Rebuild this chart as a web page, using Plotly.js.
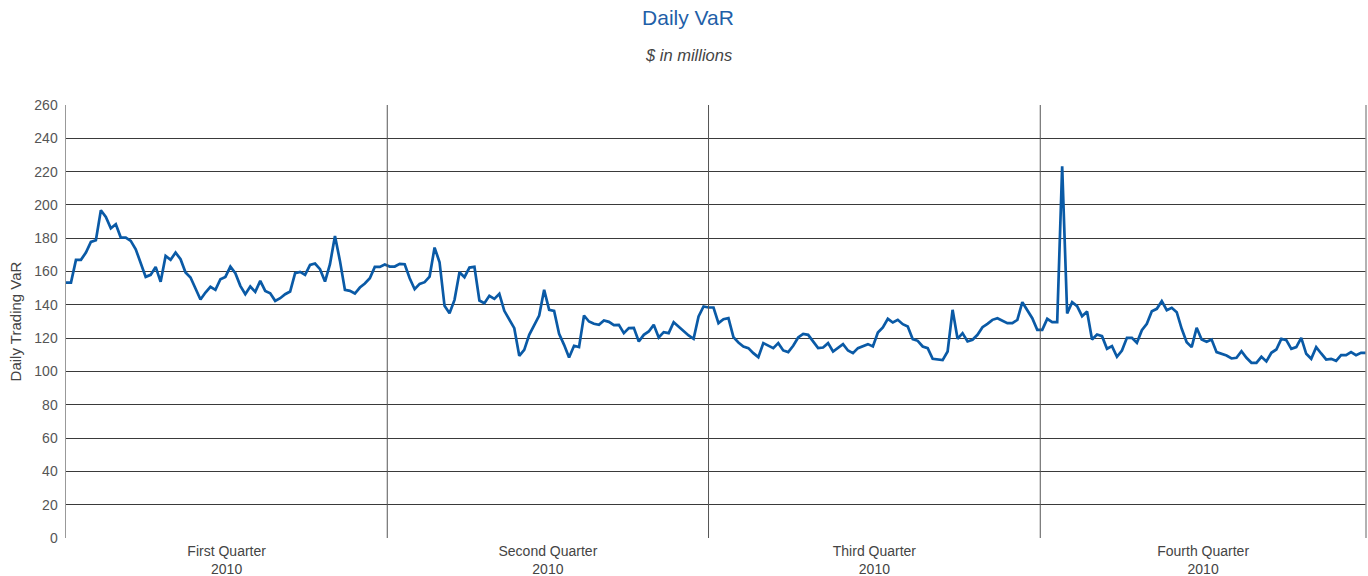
<!DOCTYPE html>
<html>
<head>
<meta charset="utf-8">
<script src="https://cdn.plot.ly/plotly-3.0.1.min.js"></script>
<style>html,body{margin:0;padding:0;background:#fff}#chart{width:1368px;height:576px}</style>
</head>
<body>
<div id="chart"></div>
<script>
// Daily trading VaR, $ in millions, 2010
const q1 = [153.4,153.4,167,167,171.4,177.8,178.8,196.8,192.8,186,188.4,180.4,180.4,178.4,173.4,165.4,156.8,158,162.8,153.8,169.4,167,171.4,167.4,159.4,156.4,149.8,143.2,147.4,150.8,149,155.4,156.8,163,159,151.4,146.4,151,147.8,154.4,148.4,147,142.4,144,146.4,148,159,159.8,158,164,164.8,161.4,154,164.4,181.4,166.4,149,148.4,146.8,150.4,152.8,156,162.8,162.8,164.2];
const q2 = [163,163,164.6,164.4,156,149.4,152.6,153.6,157,174.4,165.6,139.4,135,143,159.6,156.6,162.4,162.8,142.6,141,145.4,143.6,146.6,136.4,131,126,109.4,113,122,127.6,133.6,149,137,136.4,122.6,116,108.4,115.4,114.6,133.6,130,128.6,128,130.6,129.8,127.8,128,123,126,126.2,118,122,124,128,120.4,123.6,123,129.6,127,124,121.6,119.6,133,139,138.4];
const q3 = [138.4,129,131.4,132,120.6,117.4,115,114,111,108.6,117,115.6,114,117,112.6,111.6,115.4,120.4,122.6,122,118,114,114.4,117,112,114,116.4,112.6,111,114,115.4,116.4,115,123.4,126.4,131.6,129.4,131,128.4,127,119.4,118.4,115,114,107.6,107.4,106.8,112,137,119.6,123,118,119,122,126.6,128.6,131,132,130.4,129,129,131,141.6,137,132,125,125];
const q4 = [131.6,129.6,129.6,223.2,134.8,141.6,139.2,133.2,136,119.2,122.2,121.2,113.6,115.2,108.8,112.6,120.2,120.2,117.2,124.8,128.6,136.2,137.6,142.2,136.8,138.2,135.6,125.6,117.6,114.6,126.2,119.2,117.8,119.2,111.6,110.8,109.6,107.8,108.2,112.2,108.2,105.2,105.2,108.8,106,111.2,113.2,119.6,118.8,113.6,114.6,120.2,110.6,107.6,114.6,110.8,107.2,107.6,106.4,109.8,109.8,111.6,109.8,111.2,111.2];

const quarterLabels = ["First Quarter", "Second Quarter", "Third Quarter", "Fourth Quarter"];
const yearLabel = "2010";
const yTicks = [0,20,40,60,80,100,120,140,160,180,200,220,240,260];

const values = q1.concat(q2, q3, q4);
const days = values.map((v, i) => i);
const last = values.length - 1;
// quarter divider positions (in day-index units)
const bounds = [0, q1.length - 0.5, q1.length + q2.length - 1.0, q1.length + q2.length + q3.length - 1.4, last];
const centers = quarterLabels.map((q, i) => (bounds[i] + bounds[i+1]) / 2);

const shapes = [];
for (let i = 1; i < bounds.length - 1; i++) {
  shapes.push({type:'line', xref:'x', yref:'y', x0:bounds[i], x1:bounds[i], y0:-2, y1:260,
    line:{color:'#555', width:1}});
}
shapes.push({type:'line', xref:'paper', yref:'y', x0:1, x1:1, y0:-2, y1:260, line:{color:'#999', width:1.5}});

const trace = {
  x: days, y: values, type: 'scatter', mode: 'lines',
  line: {color:'#0a5aa6', width:2.7},
  hoverinfo: 'y'
};

const layout = {
  width: 1368, height: 576,
  margin: {l:66, r:2, t:105, b:38},
  paper_bgcolor: '#fff', plot_bgcolor: '#fff',
  showlegend: false,
  font: {family: '"Liberation Sans", Arial, sans-serif', color:'#444'},
  title: {text: 'Daily VaR', x: 688/1368, xanchor:'center', y: 1 - 18/576, yanchor:'middle',
    font: {size: 21, color: '#1f5fa8', family: '"Liberation Sans", Arial, sans-serif'}},
  xaxis: {
    range: [0, last], showgrid: false, zeroline: false,
    tickmode: 'array', tickvals: centers,
    ticktext: quarterLabels.map(q => q + '<br>' + yearLabel),
    ticks: '', ticklen: 0, showline: false, ticklabelstandoff: 3,
    tickfont: {size: 14, color: '#444'}
  },
  yaxis: {
    range: [0, 260], tickmode: 'array', tickvals: yTicks,
    showgrid: true, gridcolor: '#3a3a3a', gridwidth: 1,
    zeroline: false, showline: true, linecolor: '#999', linewidth: 1.5,
    ticks: '', ticklabelstandoff: 4, tickfont: {size: 14, color: '#555'},
    title: {text: 'Daily Trading VaR', standoff: 9, font: {size: 15, color: '#444'}}
  },
  shapes: shapes,
  annotations: [{
    text: '<i>$ in millions</i>', xref:'paper', yref:'paper',
    x: (688 - 66) / 1300, y: 1 + (105 - 55) / (576 - 105 - 38),
    xanchor:'center', yanchor:'middle', showarrow:false,
    font: {size: 16.5, color:'#444', family: '"Liberation Sans", Arial, sans-serif'}
  }]
};

Plotly.newPlot('chart', [trace], layout, {displayModeBar: false, staticPlot: true});
</script>
</body>
</html>
